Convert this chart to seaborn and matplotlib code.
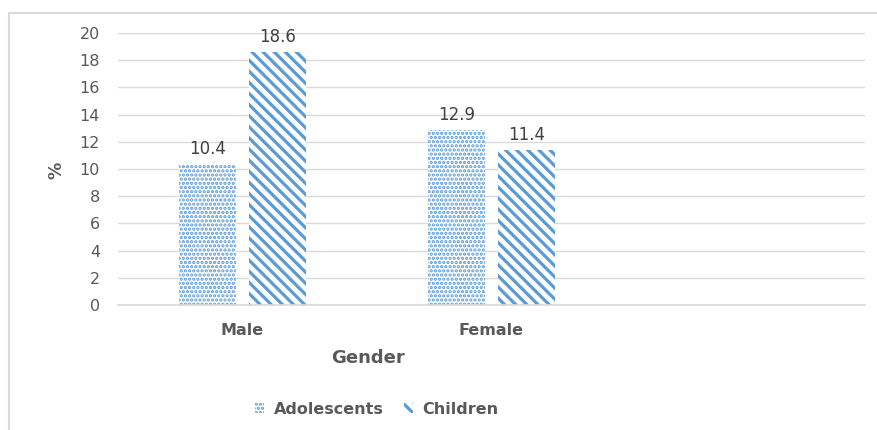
import matplotlib
matplotlib.use("Agg")
import matplotlib.pyplot as plt
from matplotlib.patches import Patch, Rectangle
import seaborn as sns
import pandas as pd

# Prevalence (%) by gender and age group
genders = ["Male", "Female"]
groups = ["Adolescents", "Children"]
adolescents = [10.4, 12.9]
children = [18.6, 11.4]
y_ticks = [0, 2, 4, 6, 8, 10, 12, 14, 16, 18, 20]

df = pd.DataFrame({
    "Gender": genders * 2,
    "Group": [groups[0]] * 2 + [groups[1]] * 2,
    "pct": adolescents + children,
})

sns.set_theme(style="white")
plt.rcParams["font.family"] = ["DejaVu Sans"]

BLUE = "#5B9BD5"
GRID = "#D9D9D9"
TEXT = "#595959"
hatches = {"Adolescents": "....", "Children": "\\\\\\"}
hatch_lw = {"Adolescents": 1.6, "Children": 2.3}

fig = plt.figure(figsize=(8.77, 4.30), dpi=100)
ax = fig.add_axes([118 / 877, 1 - 305 / 430, (865 - 118) / 877, (305 - 33) / 430])

sns.barplot(data=df, x="Gender", y="pct", hue="Group", order=genders,
            hue_order=groups, width=0.562, gap=0.185, palette=[BLUE, BLUE],
            legend=False, ax=ax)


def style_bar(bar, grp):
    bar.set_facecolor("white")
    bar.set_edgecolor(BLUE)
    bar.set_linewidth(0)
    bar.set_hatch(hatches[grp])
    if hasattr(bar, "set_hatch_linewidth"):
        bar.set_hatch_linewidth(hatch_lw[grp])
    else:
        bar._hatch_linewidth = hatch_lw[grp]


for cont, grp in zip(ax.containers, groups):
    for bar in cont:
        style_bar(bar, grp)
    ax.bar_label(cont, fmt="%.1f", padding=4, fontsize=12, color="#404040")

ax.set_xlim(-0.5, 2.5)
ax.set_ylim(0, 20)
ax.set_yticks(y_ticks)
ax.set_yticklabels([str(t) for t in y_ticks], fontsize=11.5, color=TEXT)
ax.tick_params(axis="y", length=0, pad=13)
ax.tick_params(axis="x", length=0, pad=13)
ax.set_xticks([0, 1])
ax.set_xticklabels(genders, fontsize=11.5, fontweight="bold", color=TEXT)
ax.yaxis.grid(True, color=GRID, linewidth=1)
ax.set_axisbelow(True)
for side in ["left", "right", "top"]:
    ax.spines[side].set_visible(False)
ax.spines["bottom"].set_color(GRID)
ax.spines["bottom"].set_linewidth(1.2)

ax.set_xlabel("")
ax.set_ylabel("")
fig.text(368 / 877, 1 - 358 / 430, "Gender", ha="center", va="center",
         fontsize=13, fontweight="bold", color=TEXT)
fig.text(56 / 877, 1 - 170 / 430, "%", ha="center", va="center", rotation=90,
         fontsize=12.5, fontweight="bold", color=TEXT)

handles = []
for grp in groups:
    h = Patch(facecolor="white", edgecolor=BLUE, linewidth=0, hatch=hatches[grp])
    handles.append(h)
leg = fig.legend(handles, groups, loc="center", bbox_to_anchor=(377 / 877, 1 - 409 / 430),
                 ncol=2, frameon=False, handlelength=0.55, handleheight=0.55,
                 handletextpad=0.6, columnspacing=1.3,
                 prop={"size": 11.5, "weight": "bold"})
for t in leg.get_texts():
    t.set_color(TEXT)
for h, grp in zip(leg.legend_handles, groups):
    style_bar(h, grp)

# Chart border
fig.add_artist(Rectangle((9 / 877, -0.1), 1.2, 1.1 - 13 / 430,
                         transform=fig.transFigure, fill=False,
                         edgecolor=GRID, linewidth=1.5))

fig.savefig("out.png", dpi=100, facecolor="white")
